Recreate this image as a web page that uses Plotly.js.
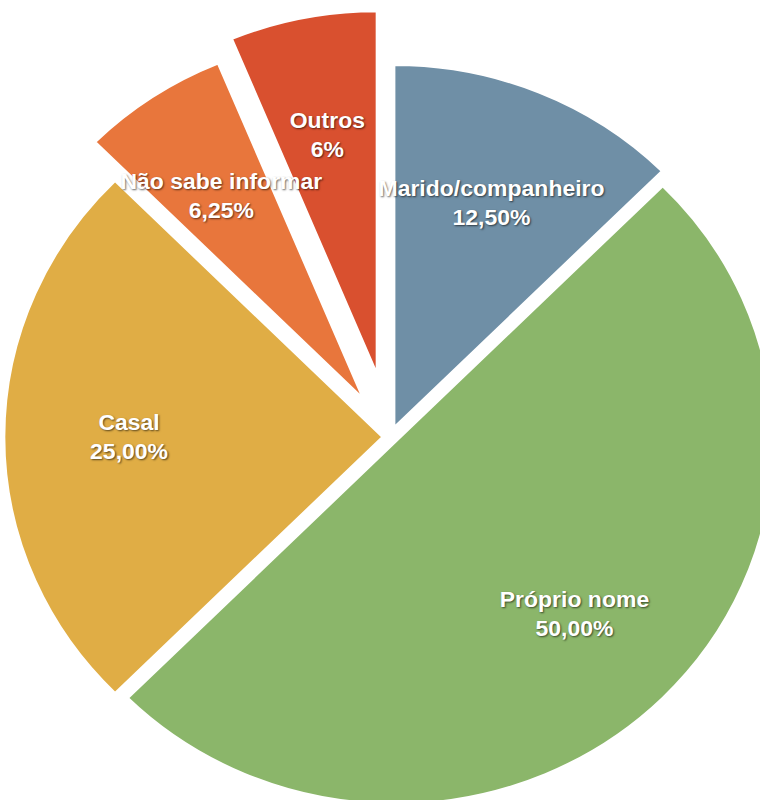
<!DOCTYPE html>
<html>
<head>
<meta charset="utf-8">
<script src="https://cdn.plot.ly/plotly-3.0.1.min.js"></script>
<style>
  html, body { margin: 0; padding: 0; width: 760px; height: 800px; overflow: hidden; background: #ffffff; }
  #chart { position: absolute; left: -37px; top: 10px; width: 854px; height: 854px;
           transform: scaleX(1.045); transform-origin: 427px 427px; }
</style>
</head>
<body>
<div id="chart"></div>
<script>
// Data
const categories = ["Marido/companheiro", "Próprio nome", "Casal", "Não sabe informar", "Outros"];
const values = [12.5, 50, 25, 6.25, 6.25];
const valueLabels = ["12,50%", "50,00%", "25,00%", "6,25%", "6%"];
const colors = ["#6f8fa6", "#8bb66a", "#e0ad45", "#e8763c", "#d9502f"];
const pulls = [0.03, 0.02, 0.02, 0.13, 0.18];

// Geometry derived from the layout size (plotly pie radius rule)
const SIZE = 854;
const maxPull = Math.max(...pulls);
const R = SIZE / (2 + 2 * maxPull);
const total = values.reduce((a, b) => a + b, 0);

const annotations = [];
let cum = 0;
values.forEach((v, i) => {
  const mid = (cum + v / 2) / total * 2 * Math.PI; // clockwise from 12 o'clock
  cum += v;
  const dist = pulls[i] * R + 0.67 * R;
  const dx = Math.sin(mid) * dist;
  const dy = -Math.cos(mid) * dist;
  annotations.push({
    xref: "paper", yref: "paper",
    x: 0.5 + dx / SIZE, y: 0.5 - dy / SIZE,
    xanchor: "center", yanchor: "middle",
    text: categories[i] + "<br>" + valueLabels[i],
    showarrow: false,
    align: "center",
    font: { family: "Liberation Sans, Arial, sans-serif", size: 22, color: "#ffffff", weight: "bold",
            shadow: "1px 1px 2px rgba(0,0,0,0.6)" }
  });
});

const trace = {
  type: "pie",
  labels: categories,
  values: values,
  sort: false,
  direction: "clockwise",
  rotation: 0,
  pull: pulls,
  marker: { colors: colors, line: { color: "#ffffff", width: 2 } },
  textinfo: "none",
  hoverinfo: "none",
  showlegend: false
};

const layout = {
  width: SIZE, height: SIZE,
  margin: { l: 0, r: 0, t: 0, b: 0 },
  paper_bgcolor: "rgba(0,0,0,0)",
  plot_bgcolor: "rgba(0,0,0,0)",
  showlegend: false,
  annotations: annotations
};

Plotly.newPlot("chart", [trace], layout, { displayModeBar: false, staticPlot: true });
</script>
</body>
</html>
